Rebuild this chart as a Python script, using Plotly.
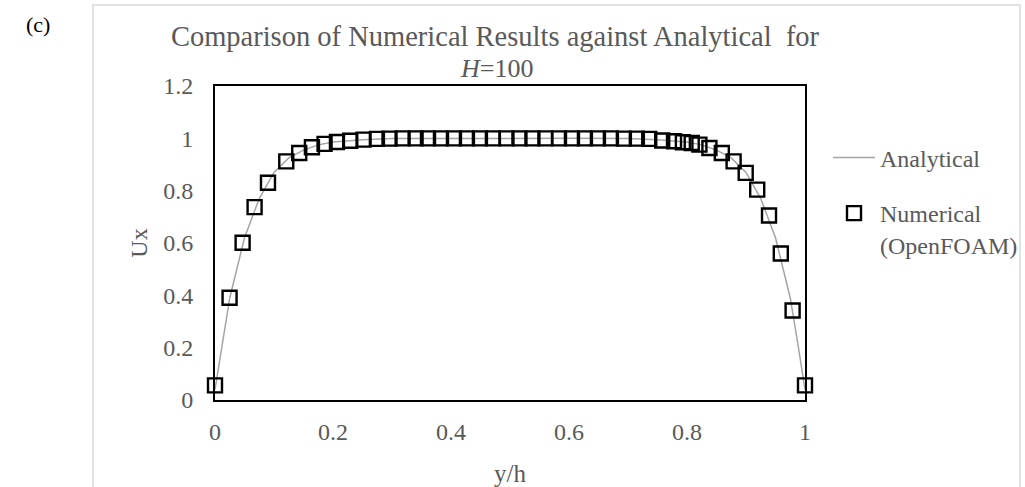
import plotly.graph_objects as go

# ---------------- data ----------------
# Analytical profile (grey line)
analytical_x = [0.0, 0.0125, 0.025, 0.05, 0.075, 0.1, 0.125, 0.15, 0.175, 0.2, 0.25, 0.3,
                0.4, 0.5, 0.6, 0.7, 0.75, 0.8, 0.825, 0.85, 0.875, 0.9, 0.925, 0.95,
                0.975, 0.9875, 1.0]
analytical_u = [0.04, 0.22, 0.39, 0.62, 0.77, 0.87, 0.925, 0.955, 0.975, 0.986, 0.995, 0.999,
                1.0, 1.0, 1.0, 0.999, 0.995, 0.986, 0.975, 0.955, 0.925, 0.87, 0.77, 0.62,
                0.39, 0.22, 0.04]

# Numerical (OpenFOAM) samples (open squares)
numerical_x = [0.0, 0.0247, 0.0468, 0.0671, 0.0898, 0.1208, 0.1428, 0.1643, 0.1857, 0.2067,
               0.2292, 0.2518, 0.2744, 0.2958, 0.318, 0.340, 0.361, 0.383, 0.405, 0.427,
               0.449, 0.471, 0.494, 0.516, 0.538, 0.560, 0.583, 0.605, 0.627, 0.649,
               0.671, 0.693, 0.715, 0.736, 0.758, 0.778, 0.793, 0.808, 0.821, 0.838,
               0.859, 0.879, 0.8995, 0.919, 0.939, 0.959, 0.979, 1.0]
numerical_u = [0.056, 0.391, 0.601, 0.737, 0.830, 0.912, 0.944, 0.966, 0.979, 0.986,
               0.991, 0.995, 0.998, 0.999, 1.0, 1.0, 1.0, 1.0, 1.0, 1.0,
               1.0, 1.0, 1.0, 1.0, 1.0, 1.0, 1.0, 1.0, 1.0, 1.0,
               1.0, 0.999, 0.999, 0.998, 0.992, 0.989, 0.985, 0.982, 0.976, 0.963,
               0.944, 0.912, 0.868, 0.804, 0.705, 0.560, 0.342, 0.056]

x_tickvals = [0, 0.2, 0.4, 0.6, 0.8, 1.0]
x_ticktext = ["0", "0.2", "0.4", "0.6", "0.8", "1"]
y_tickvals = [0, 0.2, 0.4, 0.6, 0.8, 1.0, 1.2]
y_ticktext = ["0", "0.2", "0.4", "0.6", "0.8", "1", "1.2"]

title_line1 = "Comparison of Numerical Results against Analytical\u00a0\u00a0for"
title_line2 = "<i>H</i>=100"

# ---------------- layout geometry ----------------
W, H = 1025, 487
ML, MR, MT, MB = 215, 220, 86, 87
PW, PH = W - ML - MR, H - MT - MB


def px_x(p):
    return (p - ML) / PW


def px_y(p):
    return (H - MB - p) / PH


FONT = "Liberation Serif"
GREY_TXT = "#595959"

fig = go.Figure()
fig.add_trace(go.Scatter(
    x=analytical_x, y=analytical_u, mode="lines", name="Analytical",
    line=dict(color="#A5A5A5", width=1.5), legend="legend", cliponaxis=False,
))
fig.add_trace(go.Scatter(
    x=numerical_x, y=numerical_u, mode="markers", name="Numerical<br>(OpenFOAM)",
    marker=dict(symbol="square-open", size=14, color="black", line=dict(color="black", width=2.4)),
    legend="legend2", cliponaxis=False,
))

fig.update_layout(
    width=W, height=H,
    margin=dict(l=ML, r=MR, t=MT, b=MB, autoexpand=False),
    paper_bgcolor="white", plot_bgcolor="white",
    font=dict(family=FONT, size=24, color=GREY_TXT),
    title=dict(
        text=title_line1,
        x=px_x(495), xref="paper", xanchor="center",
        y=1 - 36 / H, yref="container", yanchor="middle",
        font=dict(family=FONT, size=28.5, color=GREY_TXT),
    ),
    xaxis=dict(
        range=[0, 1], tickvals=x_tickvals, ticktext=x_ticktext, automargin=False,
        showgrid=False, zeroline=False, showline=True, mirror=True,
        linecolor="black", linewidth=2, ticks="", ticklabelstandoff=9,
        tickfont=dict(family=FONT, size=24, color=GREY_TXT),
        title=dict(text="y/h", standoff=22, font=dict(family=FONT, size=25, color=GREY_TXT)),
    ),
    yaxis=dict(
        range=[0, 1.2], tickvals=y_tickvals, ticktext=y_ticktext, automargin=False,
        showgrid=False, zeroline=False, showline=True, mirror=True,
        linecolor="black", linewidth=2, ticks="", ticklabelstandoff=15,
        tickfont=dict(family=FONT, size=24, color=GREY_TXT),
        title=dict(text="Ux", standoff=9, font=dict(family=FONT, size=24, color=GREY_TXT)),
    ),
    legend=dict(
        x=828 / W, y=1 - 158 / H, xanchor="left", yanchor="middle",
        xref="container", yref="container", itemwidth=42, bgcolor="rgba(0,0,0,0)",
        font=dict(family=FONT, size=24, color=GREY_TXT),
    ),
    legend2=dict(
        x=828 / W, y=1 - 229 / H, xanchor="left", yanchor="middle",
        xref="container", yref="container", itemwidth=42, valign="top", bgcolor="rgba(0,0,0,0)",
        font=dict(family=FONT, size=24, color=GREY_TXT),
    ),
    showlegend=True,
    shapes=[dict(
        type="rect", xref="paper", yref="paper",
        x0=px_x(93), x1=px_x(1020), y0=px_y(520), y1=px_y(5),
        line=dict(color="#D9D9D9", width=1.5), fillcolor="rgba(0,0,0,0)", layer="below",
    )],
    annotations=[
        dict(
            text=title_line2, xref="paper", yref="paper", x=px_x(496), y=px_y(69),
            xanchor="center", yanchor="middle", showarrow=False,
            font=dict(family=FONT, size=26, color=GREY_TXT),
        ),
        dict(
            text="(c)", xref="paper", yref="paper", x=px_x(38), y=px_y(24),
            xanchor="center", yanchor="middle", showarrow=False,
            font=dict(family=FONT, size=22, color="black"),
        ),
    ],
)

fig.write_html("out.html")
